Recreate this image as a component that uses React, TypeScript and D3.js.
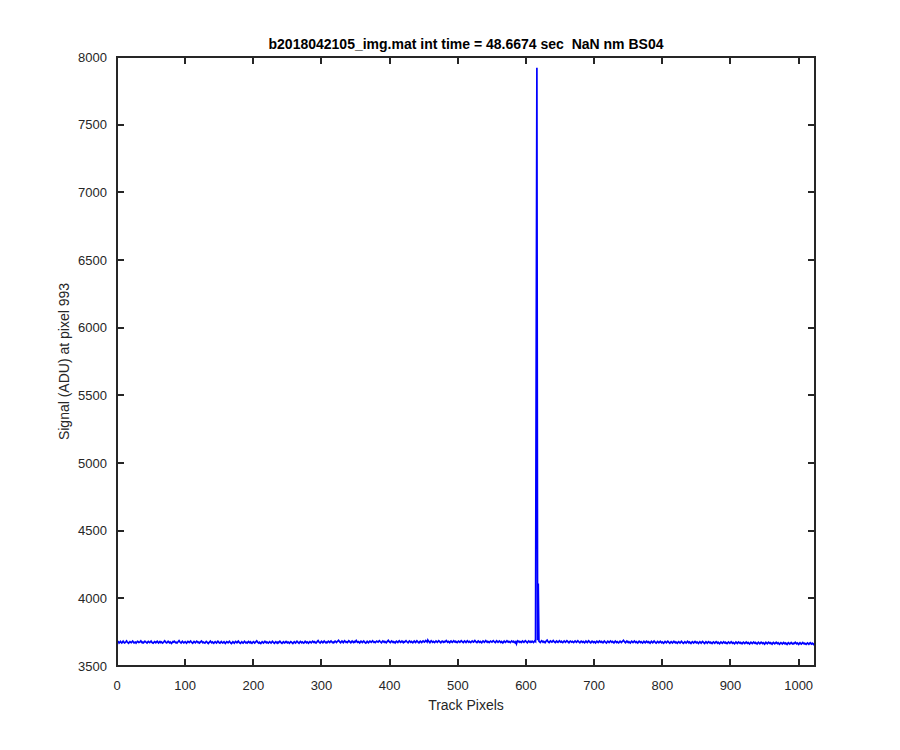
import * as d3 from "d3";

const W = 900;
const H = 750;
const M = { left: 117, right: 85, top: 57, bottom: 84 };

const TITLE = "b2018042105_img.mat int time = 48.6674 sec  NaN nm BS04";
const X_LABEL = "Track Pixels";
const Y_LABEL = "Signal (ADU) at pixel 993";

const X_TICKS = [0, 100, 200, 300, 400, 500, 600, 700, 800, 900, 1000];
const Y_TICKS = [3500, 4000, 4500, 5000, 5500, 6000, 6500, 7000, 7500, 8000];

// signal per track pixel (pixels 1..1024)
const signal = [
  3672,3678,3669,3675,3681,3674,3670,3677,3683,3676,3671,3674,3679,3685,3677,3672,3668,3675,3680,3676,3673,3679,3684,3678,3671,3674,3677,3670,3676,3682,3679,3673,
  3675,3680,3686,3678,3672,3676,3671,3677,3683,3679,3674,3670,3676,3681,3677,3673,3679,3684,3676,3671,3668,3674,3680,3677,3672,3678,3683,3675,3670,3676,3681,3674,
  3678,3673,3669,3675,3680,3686,3679,3674,3671,3677,3682,3676,3672,3678,3673,3667,3674,3680,3677,3683,3678,3672,3675,3670,3676,3681,3687,3679,3674,3670,3677,3682,
  3676,3671,3675,3680,3674,3669,3676,3682,3678,3673,3679,3684,3677,3672,3668,3675,3681,3676,3671,3677,3683,3679,3673,3676,3670,3674,3680,3685,3678,3672,3677,3673,
  3669,3675,3681,3677,3671,3666,3673,3679,3684,3676,3672,3678,3673,3668,3675,3680,3674,3670,3677,3683,3678,3672,3669,3676,3681,3675,3671,3674,3679,3673,3667,3674,
  3680,3676,3671,3677,3682,3675,3670,3666,3673,3679,3674,3669,3676,3681,3677,3672,3678,3684,3676,3671,3667,3674,3679,3673,3669,3676,3682,3677,3671,3675,3670,3676,
  3681,3675,3671,3678,3673,3668,3674,3680,3676,3670,3675,3681,3686,3678,3673,3669,3676,3671,3666,3673,3679,3675,3670,3677,3682,3676,3672,3678,3673,3669,3675,3680,
  3674,3670,3676,3682,3677,3671,3668,3675,3680,3674,3669,3676,3672,3678,3683,3677,3671,3667,3674,3679,3673,3670,3676,3681,3675,3671,3677,3673,3668,3675,3680,3676,
  3671,3666,3673,3679,3674,3670,3677,3683,3678,3672,3668,3675,3681,3676,3671,3677,3673,3669,3676,3682,3677,3672,3678,3674,3669,3675,3680,3676,3671,3677,3683,3678,
  3673,3679,3675,3670,3676,3682,3687,3679,3674,3670,3677,3682,3676,3672,3678,3684,3679,3673,3676,3671,3677,3683,3678,3674,3680,3685,3679,3673,3677,3672,3678,3684,
  3680,3674,3679,3685,3690,3682,3676,3672,3679,3684,3678,3673,3680,3686,3681,3675,3679,3674,3680,3687,3682,3676,3672,3678,3684,3679,3674,3681,3676,3682,3688,3680,
  3675,3680,3676,3671,3678,3683,3679,3674,3680,3685,3678,3673,3669,3676,3682,3677,3672,3679,3684,3680,3675,3681,3686,3679,3674,3678,3673,3679,3684,3680,3676,3682,
  3687,3681,3676,3672,3679,3685,3680,3675,3681,3677,3672,3678,3684,3689,3682,3677,3673,3680,3685,3679,3674,3680,3676,3671,3678,3683,3678,3674,3681,3686,3680,3675,
  3679,3684,3678,3673,3680,3676,3682,3687,3681,3676,3672,3679,3685,3680,3675,3681,3677,3672,3679,3684,3678,3674,3680,3686,3681,3675,3671,3678,3683,3679,3674,3680,
  3685,3680,3676,3682,3688,3683,3677,3692,3684,3678,3673,3680,3686,3681,3676,3682,3678,3673,3679,3685,3680,3675,3681,3687,3682,3676,3672,3679,3684,3680,3675,3681,
  3677,3683,3688,3681,3676,3682,3678,3673,3680,3685,3679,3675,3681,3686,3680,3676,3682,3677,3673,3679,3684,3680,3675,3681,3687,3682,3677,3673,3680,3685,3679,3674,
  3680,3686,3681,3676,3682,3678,3673,3679,3685,3680,3676,3682,3688,3682,3677,3673,3680,3685,3679,3675,3681,3676,3672,3679,3685,3680,3675,3681,3687,3681,3676,3682,
  3678,3673,3679,3684,3680,3676,3682,3687,3681,3677,3673,3680,3686,3681,3675,3680,3685,3679,3674,3681,3676,3671,3678,3684,3679,3675,3681,3686,3680,3676,3682,3678,
  3673,3679,3685,3680,3676,3682,3677,3672,3679,3664,3680,3686,3681,3676,3682,3678,3674,3680,3685,3679,3675,3681,3687,3682,3676,3672,3679,3685,3680,3675,3681,3677,
  3683,3678,3674,3680,3686,3681,5830,7920,3690,4110,3684,3679,3674,3681,3687,3682,3676,3682,3678,3673,3680,3686,3691,3683,3677,3673,3680,3685,3680,3676,3682,3688,
  3682,3677,3673,3680,3685,3679,3675,3681,3686,3680,3676,3682,3677,3673,3679,3685,3680,3675,3681,3687,3682,3676,3672,3679,3684,3680,3676,3682,3678,3673,3679,3685,
  3680,3675,3681,3686,3680,3676,3672,3679,3684,3679,3675,3681,3677,3672,3678,3684,3679,3674,3680,3686,3681,3675,3671,3678,3683,3679,3674,3680,3676,3671,3678,3683,
  3679,3674,3680,3685,3679,3675,3681,3677,3672,3678,3684,3679,3674,3670,3677,3683,3678,3673,3679,3685,3680,3675,3681,3676,3671,3678,3684,3679,3674,3680,3675,3671,
  3677,3683,3678,3673,3679,3685,3690,3682,3676,3672,3679,3684,3678,3673,3679,3674,3670,3677,3683,3678,3673,3679,3684,3678,3674,3680,3675,3670,3677,3683,3678,3673,
  3679,3674,3670,3676,3682,3677,3672,3678,3683,3677,3673,3679,3674,3669,3676,3682,3677,3672,3678,3684,3679,3673,3669,3676,3681,3676,3671,3677,3682,3676,3672,3678,
  3673,3668,3675,3681,3676,3671,3677,3683,3678,3672,3668,3675,3680,3675,3670,3677,3682,3676,3672,3678,3673,3668,3675,3680,3675,3670,3676,3682,3677,3671,3667,3674,
  3680,3675,3670,3676,3682,3677,3671,3677,3672,3667,3674,3680,3675,3670,3676,3681,3675,3671,3677,3672,3667,3674,3679,3674,3669,3675,3681,3676,3670,3666,3673,3679,
  3674,3669,3675,3680,3674,3670,3676,3671,3666,3673,3678,3673,3668,3675,3680,3674,3669,3675,3670,3665,3672,3678,3673,3668,3674,3679,3673,3669,3675,3670,3666,3672,
  3677,3672,3668,3674,3679,3673,3668,3674,3669,3664,3671,3677,3672,3667,3673,3678,3672,3668,3674,3669,3664,3671,3676,3671,3666,3672,3677,3671,3667,3673,3668,3663,
  3670,3676,3671,3666,3672,3677,3671,3667,3673,3668,3663,3670,3675,3670,3665,3671,3676,3670,3666,3672,3667,3662,3669,3675,3670,3665,3671,3676,3670,3666,3672,3667,
  3662,3669,3674,3669,3664,3670,3675,3669,3665,3671,3666,3661,3668,3673,3668,3663,3669,3674,3668,3664,3670,3665,3660,3667,3672,3667,3662,3668,3673,3667,3663,3669,
  3664,3670,3675,3669,3664,3670,3665,3660,3667,3672,3666,3662,3668,3673,3667,3663,3669,3664,3660,3666,3671,3666,3661,3667,3672,3666,3662,3668,3663,3659,3666,3662,
];

const AXIS_COLOR = "#262626";
const FONT = "'Liberation Sans', Arial, Helvetica, sans-serif";
const TICK_LEN = 7;

export default function App() {
  const x = d3.scaleLinear().domain([0, 1024]).range([M.left, W - M.right]);
  const y = d3.scaleLinear().domain([3500, 8000]).range([H - M.bottom, M.top]);

  const line = d3
    .line<number>()
    .x((_, i) => x(i + 1))
    .y((d) => y(d));

  const x0 = M.left;
  const x1 = W - M.right;
  const y0 = H - M.bottom;
  const y1 = M.top;

  return (
    <svg
      width={W}
      height={H}
      style={{ position: "absolute", left: 0, top: 0, background: "#fff" }}
      fontFamily={FONT}
    >
      <defs>
        <clipPath id="plotArea">
          <rect x={x0} y={y1} width={x1 - x0} height={y0 - y1} />
        </clipPath>
      </defs>
      <rect x={0} y={0} width={W} height={H} fill="#fff" />

      <path
        d={line(signal) || ""}
        fill="none"
        stroke="#0000ff"
        strokeWidth={1.7}
        strokeLinejoin="miter"
        clipPath="url(#plotArea)"
      />

      {/* ticks on all four sides, pointing inward */}
      <g stroke={AXIS_COLOR} strokeWidth={2} shapeRendering="crispEdges">
        {X_TICKS.map((t) => (
          <g key={"xt" + t}>
            <line x1={x(t)} x2={x(t)} y1={y0} y2={y0 - TICK_LEN} />
            <line x1={x(t)} x2={x(t)} y1={y1} y2={y1 + TICK_LEN} />
          </g>
        ))}
        {Y_TICKS.map((t) => (
          <g key={"yt" + t}>
            <line x1={x0} x2={x0 + TICK_LEN} y1={y(t)} y2={y(t)} />
            <line x1={x1} x2={x1 - TICK_LEN} y1={y(t)} y2={y(t)} />
          </g>
        ))}
        <rect x={x0} y={y1} width={x1 - x0} height={y0 - y1} fill="none" />
      </g>

      <g fill={AXIS_COLOR} fontSize={13}>
        {X_TICKS.map((t) => (
          <text key={"xl" + t} x={x(t)} y={y0 + 24} textAnchor="middle">
            {t}
          </text>
        ))}
        {Y_TICKS.map((t) => (
          <text key={"yl" + t} x={x0 - 10} y={y(t) + 4.5} textAnchor="end">
            {t}
          </text>
        ))}
      </g>

      <text
        x={(x0 + x1) / 2}
        y={y0 + 44}
        textAnchor="middle"
        fontSize={14}
        fill={AXIS_COLOR}
      >
        {X_LABEL}
      </text>
      <text
        transform={`translate(${69},${(y0 + y1) / 2}) rotate(-90)`}
        textAnchor="middle"
        fontSize={14}
        fill={AXIS_COLOR}
      >
        {Y_LABEL}
      </text>
      <text
        x={(x0 + x1) / 2}
        y={y1 - 8}
        textAnchor="middle"
        fontSize={14}
        fontWeight="bold"
        fill="#000"
        style={{ whiteSpace: "pre" }}
      >
        {TITLE}
      </text>
    </svg>
  );
}
